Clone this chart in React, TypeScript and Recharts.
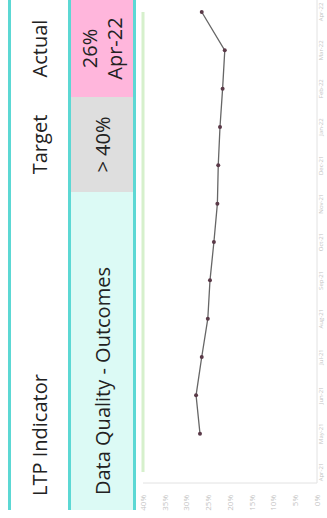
import React from "react";
import { LineChart, Line, XAxis, YAxis } from "recharts";

const months = ["Apr-21", "May-21", "Jun-21", "Jul-21", "Aug-21", "Sep-21", "Oct-21", "Nov-21", "Dec-21", "Jan-22", "Feb-22", "Mar-22", "Apr-22"];
const actualValues: (number | null)[] = [null, 26.9, 27.8, 26.5, 25.1, 24.6, 23.7, 22.9, 22.7, 22.3, 21.7, 21.2, 26.5];
const targetValues = [40, 40, 40, 40, 40, 40, 40, 40, 40, 40, 40, 40, 40];
const yTicks = [0, 5, 10, 15, 20, 25, 30, 35, 40];

const headers = ["LTP Indicator", "Target", "Actual"];
const indicator = "Data Quality - Outcomes";
const targetText = "> 40%";
const actualText = ["26%", "Apr-22"];

const rows = months.map((m, i) => ({ month: m, actual: actualValues[i], target: targetValues[i] }));

const TEAL = "#5cd8d4";

export default function App() {
  const abs = (s: React.CSSProperties): React.CSSProperties => ({ position: "absolute", ...s });
  const cellText = (s: React.CSSProperties): React.CSSProperties => ({
    position: "absolute",
    display: "flex",
    alignItems: "center",
    fontSize: 20,
    whiteSpace: "nowrap",
    ...s,
  });
  return (
    <div style={{ position: "fixed", left: 0, top: 0, width: 327, height: 518, overflow: "hidden", background: "#fff" }}>
      <div
        style={{
          position: "absolute",
          left: 0,
          top: 0,
          width: 518,
          height: 327,
          transformOrigin: "0 0",
          transform: "translateY(518px) rotate(-90deg)",
          fontFamily: '"Open Sans", sans-serif',
          color: "#222",
          overflow: "hidden",
        }}
      >
        {/* row 2 backgrounds */}
        <div style={abs({ left: 8, top: 71, width: 318, height: 62, background: "#dcfaf5" })} />
        <div style={abs({ left: 326, top: 71, width: 95, height: 62, background: "#dedede" })} />
        <div style={abs({ left: 421, top: 71, width: 97, height: 62, background: "#ffb6dc" })} />
        {/* borders */}
        <div style={abs({ left: 8, top: 8, width: 510, height: 3, background: TEAL })} />
        <div style={abs({ left: 8, top: 68, width: 510, height: 3, background: TEAL })} />
        <div style={abs({ left: 8, top: 133, width: 510, height: 3, background: TEAL })} />
        {/* header texts */}
        <div style={cellText({ left: 22, top: 11, height: 57 })}>{headers[0]}</div>
        <div style={cellText({ left: 326, top: 11, width: 95, height: 57, justifyContent: "center" })}>{headers[1]}</div>
        <div style={cellText({ left: 421, top: 11, width: 97, height: 57, justifyContent: "center" })}>{headers[2]}</div>
        {/* row texts */}
        <div style={cellText({ left: 23, top: 71, height: 62 })}>{indicator}</div>
        <div style={cellText({ left: 326, top: 71, width: 95, height: 62, justifyContent: "center" })}>{targetText}</div>
        <div
          style={cellText({
            left: 421,
            top: 71,
            width: 97,
            height: 62,
            justifyContent: "center",
            flexDirection: "column",
            lineHeight: "25px",
          })}
        >
          <span>{actualText[0]}</span>
          <span>{actualText[1]}</span>
        </div>
        {/* chart */}
        <div style={abs({ left: 0, top: 137, width: 518, height: 190, overflow: "hidden" })}>
          <LineChart width={518} height={190} data={rows} margin={{ top: 6, right: 0, bottom: 0, left: 0 }}>
            <XAxis
              dataKey="month"
              scale="point"
              padding={{ left: 11, right: 12 }}
              height={10}
              tickLine={false}
              tickSize={0}
              axisLine={{ stroke: "#e2e2e2" }}
              tick={{ fontSize: 6, fill: "#c4c4c4" }}
              tickMargin={2}
              interval={0}
            />
            <YAxis
              width={35}
              domain={[0, 40]}
              ticks={yTicks}
              tickFormatter={(v: number) => `${v}%`}
              tickLine={false}
              tickMargin={6}
              axisLine={{ stroke: "#e2e2e2" }}
              tick={{ fontSize: 8, fill: "#c4c4c4" }}
            />
            <Line
              dataKey="target"
              stroke="#d6f0cc"
              strokeWidth={3}
              dot={false}
              isAnimationActive={false}
            />
            <Line
              dataKey="actual"
              stroke="#666"
              strokeWidth={1.3}
              dot={{ r: 2, fill: "#5a3a48", stroke: "none" }}
              isAnimationActive={false}
            />
          </LineChart>
        </div>
      </div>
    </div>
  );
}
